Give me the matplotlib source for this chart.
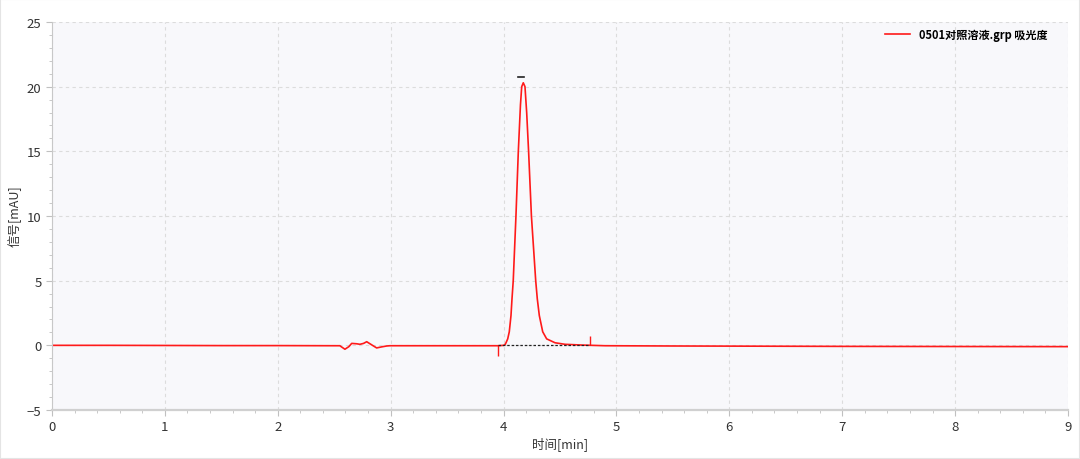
import numpy as np
import matplotlib
matplotlib.use('Agg')
import matplotlib.pyplot as plt
from matplotlib.ticker import MultipleLocator
from matplotlib.patches import Rectangle

plt.rcParams['font.family'] = ['Noto Sans CJK SC', 'DejaVu Sans']

# chromatogram trace
time = [0.0, 0.5, 1.0, 1.5, 2.0, 2.5, 2.55, 2.595, 2.63, 2.655, 2.70, 2.728,
        2.76, 2.788, 2.83, 2.876, 2.92, 2.965, 2.994, 3.5, 3.95, 4.0, 4.013,
        4.022, 4.037, 4.051, 4.066, 4.075, 4.086, 4.110, 4.131, 4.150, 4.161, 4.175,
        4.190, 4.205, 4.222, 4.247, 4.285, 4.299, 4.317, 4.347, 4.382, 4.456, 4.544,
        4.70, 4.9, 5.5, 6.0, 7.0, 8.0, 9.0]
signal = [0.0, 0.0, -0.01, -0.02, -0.02, -0.03, -0.03, -0.3, -0.1, 0.15, 0.12, 0.08,
          0.15, 0.28, 0.05, -0.2, -0.12, -0.05, -0.03, -0.03, -0.03, 0.0, 0.05,
          0.2, 0.5, 1.05, 2.3, 3.6, 5.0, 10.0, 15.0, 18.6, 20.0, 20.3,
          20.0, 18.0, 15.0, 10.0, 5.0, 3.6, 2.3, 1.05, 0.5, 0.2, 0.08,
          0.02, -0.03, -0.05, -0.06, -0.08, -0.09, -0.1]

# integration marks
event_t = [3.953, 4.766]
event_h = [-0.8, 0.75]
base_t = [3.953, 4.766]
base_y = [0.0, 0.0]
apex_t = [4.125, 4.183]
apex_y = [20.75, 20.75]

legend_label = '0501对照溶液.grp 吸光度'

fig = plt.figure(figsize=(10.8, 4.6), dpi=100)
ax = fig.add_axes([0.0481, 0.1065, 0.9408, 0.8435])
ax.set_facecolor('#f8f8fb')

ax.plot(time, signal, color='#ff1a1a', lw=1.2, label=legend_label)
ax.vlines(event_t, 0, event_h, color='#ff1a1a', lw=1.0)
ax.plot(base_t, base_y, color='#222222', lw=0.9, ls=(0, (2, 1.5)))
ax.plot(apex_t, apex_y, color='#222222', lw=1.2)

ax.set_xlim(0, 9)
ax.set_ylim(-5, 25)
ax.xaxis.set_major_locator(MultipleLocator(1))
ax.xaxis.set_minor_locator(MultipleLocator(0.2))
ax.yaxis.set_major_locator(MultipleLocator(5))
ax.yaxis.set_minor_locator(MultipleLocator(1))

ax.grid(True, which='major', color='#dcdcdc', ls=(0, (3, 3)), lw=0.8)
for s in ['top', 'right']:
    ax.spines[s].set_visible(False)
ax.spines['left'].set_color('#c8c8c8')
ax.spines['bottom'].set_color('#d0d0d0')
ax.spines['bottom'].set_linewidth(1.6)
ax.tick_params(which='major', length=4, color='#c0c0c0', labelsize=9.5,
               labelcolor='#333333')
ax.tick_params(which='minor', length=2, color='#c0c0c0')

fig.text(0.5185, 0.035, '时间[min]', fontsize=9, color='#333333',
         ha='center', va='center')
fig.text(0.014, 0.53, '信号[mAU]', fontsize=9, color='#333333',
         ha='center', va='center', rotation=90)

leg = ax.legend(loc='upper right', bbox_to_anchor=(0.985, 1.0), frameon=False,
                fontsize=8, handlelength=2.2, borderaxespad=0.1)
for t in leg.get_texts():
    t.set_fontweight('bold')
    t.set_fontstyle('italic')

fig.patches.append(Rectangle((0, 0), 1, 1, transform=fig.transFigure,
                             fill=False, ec='#e4e4e4', lw=1.5))

fig.savefig('out.png', dpi=100)
